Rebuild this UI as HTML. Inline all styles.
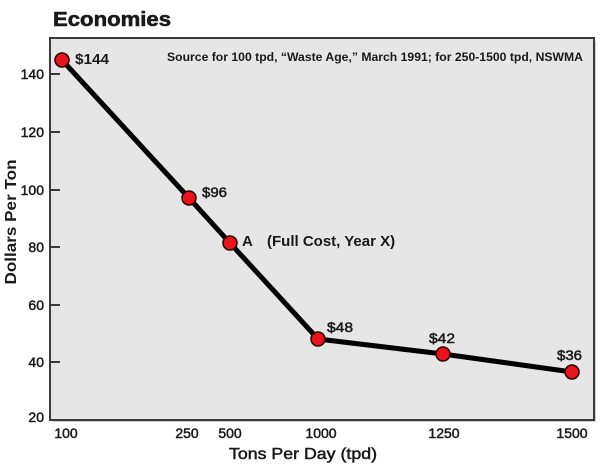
<!DOCTYPE html>
<html>
<head>
<meta charset="utf-8">
<style>
  html, body { margin: 0; padding: 0; background: #ffffff; }
  svg { display: block; }
  text { font-family: "Liberation Sans", Arial, sans-serif; fill: #1a1a1a; }
</style>
</head>
<body>
<svg width="600" height="466" viewBox="0 0 600 466" xmlns="http://www.w3.org/2000/svg">
  <rect x="0" y="0" width="600" height="466" fill="#ffffff"/>

  <!-- Title -->
  <text x="53" y="26" font-size="20" font-weight="bold" stroke="#1a1a1a" stroke-width="0.6" textLength="118" lengthAdjust="spacingAndGlyphs">Economies</text>

  <!-- Plot area -->
  <rect x="52" y="41" width="544" height="381" fill="#cfcfcf"/>
  <rect x="50" y="38" width="544" height="382" fill="#e6e6e6" stroke="#3a3a3a" stroke-width="2"/>

  <!-- Source -->
  <text x="167" y="61" font-size="12" font-weight="bold" textLength="416" lengthAdjust="spacingAndGlyphs">Source for 100 tpd, “Waste Age,” March 1991; for 250-1500 tpd, NSWMA</text>

  <!-- Y ticks -->
  <g stroke="#3a3a3a" stroke-width="2">
    <line x1="50" y1="74" x2="60" y2="74"/>
    <line x1="50" y1="132" x2="60" y2="132"/>
    <line x1="50" y1="190" x2="60" y2="190"/>
    <line x1="50" y1="247" x2="60" y2="247"/>
    <line x1="50" y1="305" x2="60" y2="305"/>
    <line x1="50" y1="362" x2="60" y2="362"/>
  </g>
  <g font-size="14" text-anchor="end" stroke="#1a1a1a" stroke-width="0.5">
    <text x="44" y="79">140</text>
    <text x="44" y="137">120</text>
    <text x="44" y="195">100</text>
    <text x="44" y="252">80</text>
    <text x="44" y="310">60</text>
    <text x="44" y="367">40</text>
    <text x="44" y="422">20</text>
  </g>

  <!-- X labels -->
  <g font-size="14" text-anchor="middle" stroke="#1a1a1a" stroke-width="0.5">
    <text x="66" y="438">100</text>
    <text x="187" y="438">250</text>
    <text x="230" y="438">500</text>
    <text x="321" y="438">1000</text>
    <text x="444" y="438">1250</text>
    <text x="572" y="438">1500</text>
  </g>

  <!-- Axis titles -->
  <text x="229" y="459" font-size="16" stroke="#1a1a1a" stroke-width="0.5" textLength="148" lengthAdjust="spacingAndGlyphs">Tons Per Day (tpd)</text>
  <text transform="translate(16,222) rotate(-90)" x="0" y="0" font-size="16" font-weight="bold" text-anchor="middle" textLength="125" lengthAdjust="spacingAndGlyphs">Dollars Per Ton</text>

  <!-- Series line -->
  <polyline points="62,60 189,198 230,243 318,339 443,354 572,372" fill="none" stroke="#000000" stroke-width="5" stroke-linejoin="round" stroke-linecap="round"/>

  <!-- Points -->
  <g fill="#e8131b" stroke="#2a0000" stroke-width="1.5">
    <circle cx="62" cy="60" r="7"/>
    <circle cx="189" cy="198" r="7"/>
    <circle cx="230" cy="243" r="7"/>
    <circle cx="318" cy="339" r="7"/>
    <circle cx="443" cy="354" r="7"/>
    <circle cx="572" cy="372" r="7"/>
  </g>

  <!-- Value labels -->
  <text x="75" y="64" font-size="15" font-weight="bold" textLength="34" lengthAdjust="spacingAndGlyphs">$144</text>
  <g font-size="14" stroke="#1a1a1a" stroke-width="0.5">
    <text x="202" y="197" textLength="25" lengthAdjust="spacingAndGlyphs">$96</text>
    <text x="327" y="332" textLength="26" lengthAdjust="spacingAndGlyphs">$48</text>
    <text x="429" y="343" textLength="26" lengthAdjust="spacingAndGlyphs">$42</text>
    <text x="557" y="360" textLength="25" lengthAdjust="spacingAndGlyphs">$36</text>
  </g>
  <text x="242" y="246" font-size="15" font-weight="bold">A</text>
  <text x="267" y="246" font-size="15" font-weight="bold">(Full Cost, Year X)</text>
</svg>
</body>
</html>
